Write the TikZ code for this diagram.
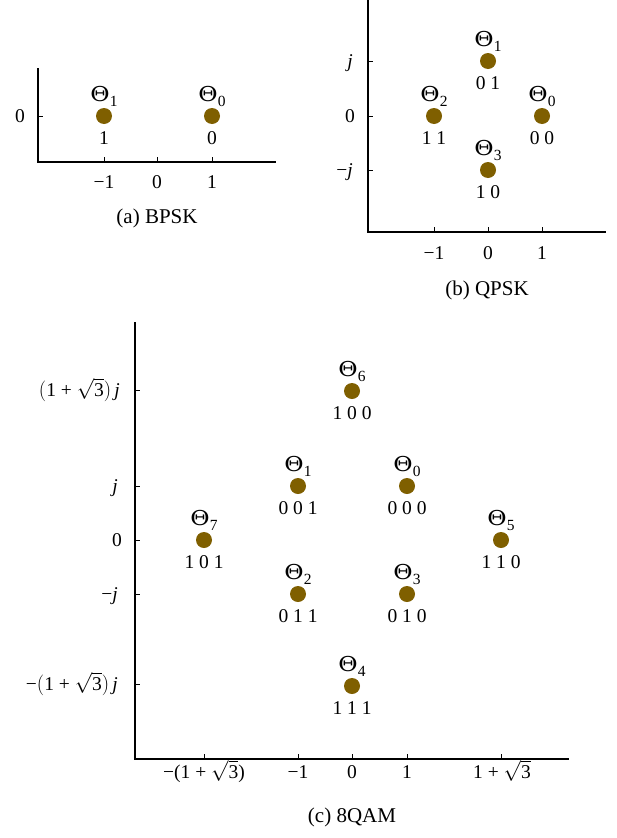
\documentclass[tikz,border=0pt]{standalone}
\usepackage{graphicx}
\usepackage{fontspec}
\setmainfont{Liberation Serif}
\newfontfamily\thfont{DejaVu Serif}
\definecolor{dotc}{RGB}{127,95,0}
\newcommand\mneg{\char"2212\relax}
\newcommand\jj{\textit{j}}
\newcommand\rthree{$\sqrt{\hbox{3}}$}
\newcommand\thsym[1]{\scalebox{1.15}[1]{\thfont\fontsize{20.5}{22}\selectfont\char"0398}\raisebox{-5pt}{\fontsize{15.5}{16}\selectfont #1}}
\newcommand\csym[5]{%
  \node[cpt] (#1) at (#2,#3) {};
  \node[thlab] (#1t) at (#2,#3-15) {\thsym{#4}};
  \node[bitlab] (#1b) at (#2,#3+28) {#5};}
\begin{document}
\begin{tikzpicture}[x=1pt,y=-1pt,
  font=\fontsize{19.5}{22}\selectfont,
  cpt/.style={circle,fill=dotc,inner sep=0pt,minimum size=16pt},
  axisline/.style={line width=1.6pt,line cap=rect},
  tickline/.style={line width=0.7pt},
  thlab/.style={anchor=base,inner sep=0pt},
  bitlab/.style={anchor=base,inner sep=0pt},
  xlab/.style={anchor=base,inner sep=0pt},
  ylab/.style={anchor=base east,inner sep=0pt},
  caplab/.style={anchor=base,inner sep=0pt,font=\fontsize{21}{24}\selectfont}]
\useasboundingbox (0,0) rectangle (617,838);
% ---------- (a) BPSK ----------
\coordinate (aT) at (38,69);
\coordinate (aO) at (38,162);
\coordinate (aR) at (275,162);
\draw[axisline] (aT) -- (aO) -- (aR);
\draw[tickline] (38,116) -- (43,116);
\foreach \x in {104,157,212} \draw[tickline] (\x,162) -- (\x,157);
\node[ylab] (ay0) at (25,122) {0};
\node[xlab] (axm1) at (104,188) {\mneg 1};
\node[xlab] (ax0) at (157,188) {0};
\node[xlab] (ax1) at (212,188) {1};
\csym{a1}{104}{116}{1}{1}
\csym{a0}{212}{116}{0}{0}
\node[caplab] (capa) at (157,223) {(a) BPSK};
% ---------- (b) QPSK ----------
\coordinate (bT) at (368,0);
\coordinate (bO) at (368,232);
\coordinate (bR) at (605,232);
\draw[axisline] (bT) -- (bO) -- (bR);
\foreach \y in {61,116,170} \draw[tickline] (368,\y) -- (373,\y);
\foreach \x in {434,488,542} \draw[tickline] (\x,232) -- (\x,227);
\node[ylab] (byj) at (353,67) {\jj};
\node[ylab] (by0) at (355,122) {0};
\node[ylab] (bymj) at (353,176) {\mneg\jj};
\node[xlab] (bxm1) at (434,259) {\mneg 1};
\node[xlab] (bx0) at (488,259) {0};
\node[xlab] (bx1) at (542,259) {1};
\csym{b0}{542}{116}{0}{0 0}
\csym{b1}{488}{61}{1}{0 1}
\csym{b2}{434}{116}{2}{1 1}
\csym{b3}{488}{170}{3}{1 0}
\node[caplab] (capb) at (487,295) {(b) QPSK};
% ---------- (c) 8QAM ----------
\coordinate (cT) at (135,323);
\coordinate (cO) at (135,759);
\coordinate (cR) at (568,759);
\draw[axisline] (cT) -- (cO) -- (cR);
\foreach \y in {390,486,540,594,684} \draw[tickline] (135,\y) -- (140,\y);
\foreach \x in {204,298,352,407,501} \draw[tickline] (\x,759) -- (\x,754);
\node[ylab] (cyp) at (120,396) {$\bigl($1 + \rthree$\bigr)$\,\jj};
\node[ylab] (cyj) at (118,492) {\jj};
\node[ylab] (cy0) at (122,546) {0};
\node[ylab] (cymj) at (118,600) {\mneg\jj};
\node[ylab] (cym) at (118,690) {\mneg$\bigl($1 + \rthree$\bigr)$\,\jj};
\node[xlab] (cxm) at (204,778) {\mneg(1 + \rthree)};
\node[xlab] (cxm1) at (298,778) {\mneg 1};
\node[xlab] (cx0) at (352,778) {0};
\node[xlab] (cx1) at (407,778) {1};
\node[xlab] (cxp) at (502,778) {1 + \rthree};
\csym{c0}{407}{486}{0}{0 0 0}
\csym{c1}{298}{486}{1}{0 0 1}
\csym{c2}{298}{594}{2}{0 1 1}
\csym{c3}{407}{594}{3}{0 1 0}
\csym{c4}{352}{686}{4}{1 1 1}
\csym{c5}{501}{540}{5}{1 1 0}
\csym{c6}{352}{391}{6}{1 0 0}
\csym{c7}{204}{540}{7}{1 0 1}
\node[caplab] (capc) at (352,822) {(c) 8QAM};
\end{tikzpicture}
\end{document}
